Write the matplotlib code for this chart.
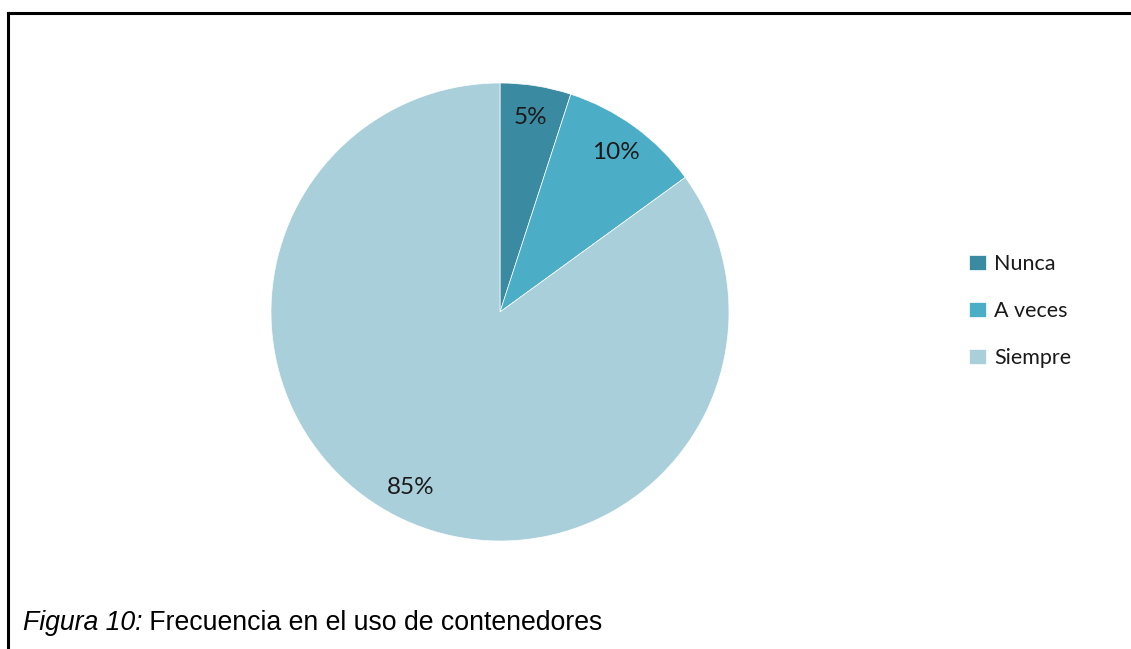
import matplotlib
matplotlib.use("Agg")
import matplotlib.pyplot as plt
from matplotlib.lines import Line2D

categories = ["Nunca", "A veces", "Siempre"]
shares = [5, 10, 85]
colors = ["#3A8BA1", "#4BADC6", "#A9CFDB"]
caption_lead = "Figura 10:"
caption_rest = " Frecuencia en el uso de contenedores"

W, H = 1131, 649
fig = plt.figure(figsize=(W / 100, H / 100), dpi=100)

# pie axes: centre (500, 312) px, radius 229 px
cx, cy, r = 500, 312, 229
ax = fig.add_axes([(cx - r) / W, (H - cy - r) / H, 2 * r / W, 2 * r / H])

wedges, _, autotexts = ax.pie(
    shares, colors=colors, startangle=90, counterclock=False,
    autopct=lambda p: f"{p:.0f}%", pctdistance=0.86,
    wedgeprops=dict(edgecolor="white", linewidth=0.5),
    textprops=dict(fontsize=17.5, family="Lato", color="#1a1a1a"),
)
ax.set_aspect("auto")
ax.set_xlim(-1, 1)
ax.set_ylim(-1, 1)

leg = fig.legend(
    wedges, categories, loc="center left", bbox_to_anchor=(950 / W, 1 - 311 / H),
    frameon=False, handlelength=0.75, handleheight=0.75, handletextpad=0.4,
    labelspacing=1.25, prop=dict(family="Lato", size=15.5),
)
for t in leg.get_texts():
    t.set_color("#1a1a1a")

# frame lines (top and left)
fig.add_artist(Line2D([7.5 / W, 1], [1 - 12.5 / H, 1 - 12.5 / H],
                      transform=fig.transFigure, color="black", linewidth=2.2))
fig.add_artist(Line2D([7.5 / W, 7.5 / W], [0, 1 - 12.5 / H],
                      transform=fig.transFigure, color="black", linewidth=2.2))

# caption: italic lead followed by regular text
cap_y = 1 - 623 / H
t1 = fig.text(23 / W, cap_y, caption_lead, fontsize=19.2, family="Liberation Sans",
              style="italic", va="center", ha="left")
fig.canvas.draw()
bb = t1.get_window_extent()
fig.text(bb.x1 / W, cap_y, caption_rest, fontsize=19.2, family="Liberation Sans",
         va="center", ha="left")

fig.savefig("out.png", dpi=100, facecolor="white")
